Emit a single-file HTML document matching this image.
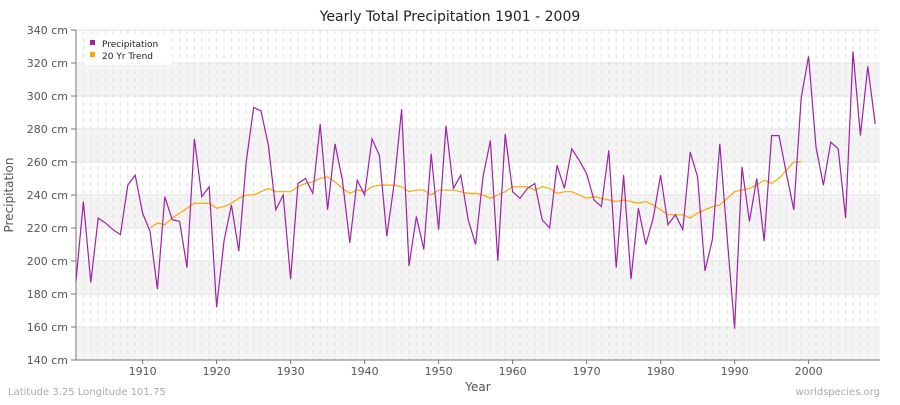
<!DOCTYPE html>
<html><head><meta charset="utf-8"><style>
body{margin:0;background:#fff;}
svg text{font-family:"DejaVu Sans","Liberation Sans",sans-serif;}
</style></head><body>
<svg id="c" width="900" height="400" xmlns="http://www.w3.org/2000/svg"></svg>
<script>
const s=document.getElementById('c');
const X=y=>76+(y-1901)*7.4, Y=v=>360-(v-140)*1.65;
let h='<rect width="900" height="400" fill="#fff"/>';
for(let v=140;v<340;v+=40){h+=`<rect x="76" y="${Y(v+20)}" width="804" height="33" fill="#f4f4f4"/>`;}
for(let yr=1901;yr<=2009;yr++){h+=`<line x1="${X(yr)}" x2="${X(yr)}" y1="30" y2="360" stroke="#e2e2e2" stroke-width="1" stroke-dasharray="4,4"/>`;}
for(let v=140;v<=340;v+=20){h+=`<line x1="76" x2="880" y1="${Y(v)}" y2="${Y(v)}" stroke="#e2e2e2"/>`;
h+=`<text x="68" y="${Y(v)+4}" font-size="11" fill="#555" text-anchor="end">${v} cm</text><line x1="71" x2="76" y1="${Y(v)}" y2="${Y(v)}" stroke="#777"/>`;}
for(let yr=1910;yr<=2000;yr+=10){h+=`<text x="${X(yr)}" y="375" font-size="11" fill="#555" text-anchor="middle">${yr}</text><line x1="${X(yr)}" x2="${X(yr)}" y1="360" y2="364" stroke="#777"/>`;}
h+=`<line x1="76" x2="76" y1="30" y2="360" stroke="#777"/><line x1="76" x2="880" y1="360" y2="360" stroke="#777"/>`;
const p=[188,236,187,226,223,219,216,246,252,229,218,183,239,225,224,196,274,239,245,172,212,234,206,260,293,291,270,231,240,189,247,250,241,283,231,271,249,211,249,240,274,264,215,247,292,197,227,207,265,219,282,244,252,225,210,251,273,200,277,242,238,244,247,225,220,258,244,268,261,253,237,233,267,196,252,189,232,210,226,252,222,228,219,266,251,194,213,271,214,159,257,224,250,212,276,276,253,231,299,324,269,246,272,268,226,327,276,318,283];
const t=[220,223,222,226,229,232,235,235,235,232,233,235,238,240,240,242,244,242,242,242,245,247,248,250,251,248,244,241,243,242,245,246,246,246,245,242,243,243,240,243,243,243,242,241,241,240,238,240,242,245,245,245,243,245,244,241,242,242,240,238,239,238,237,236,237,236,235,236,234,231,228,228,228,226,229,231,233,234,238,242,243,244,246,249,247,250,255,260,260];
h+=`<polyline fill="none" stroke="#ffa500" stroke-width="1.2" points="${t.map((v,i)=>X(1999-t.length+1+i)+','+Y(v)).join(' ')}"/>`;
h+=`<polyline fill="none" stroke="#a020a8" stroke-width="1.2" points="${p.map((v,i)=>X(1901+i)+','+Y(v)).join(' ')}"/>`;
h+=`<text x="450" y="21" font-size="14" fill="#222" text-anchor="middle">Yearly Total Precipitation 1901 - 2009</text>`;
h+=`<text x="478" y="391" font-size="12" fill="#555" text-anchor="middle">Year</text>`;
h+=`<text transform="translate(13,195) rotate(-90)" font-size="12" fill="#555" text-anchor="middle">Precipitation</text>`;
h+=`<rect x="84" y="35" width="88" height="30" fill="#fff" opacity="0.9"/><rect x="90" y="40" width="5" height="5" fill="#a020a8"/><text x="102" y="47" font-size="9" fill="#222">Precipitation</text><rect x="90" y="52" width="5" height="5" fill="#ffa500"/><text x="102" y="59" font-size="9" fill="#222">20 Yr Trend</text>`;
h+=`<text x="8" y="395" font-size="10" fill="#aaa">Latitude 3.25 Longitude 101.75</text><text x="880" y="395" font-size="10" fill="#aaa" text-anchor="end">worldspecies.org</text>`;
s.innerHTML=h;
</script>
</body></html>
